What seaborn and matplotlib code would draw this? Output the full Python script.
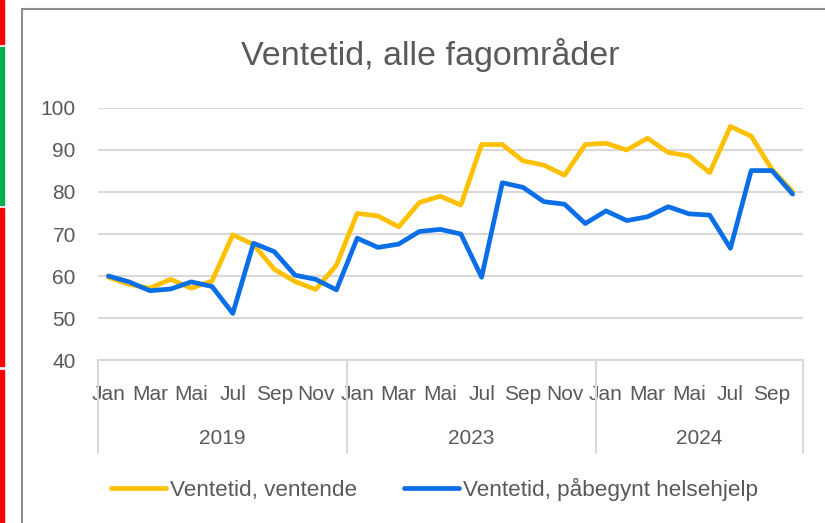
import matplotlib
matplotlib.use("Agg")
import matplotlib.pyplot as plt
import matplotlib.patches as mpatches
import matplotlib.transforms as mtransforms
import numpy as np
import pandas as pd
import seaborn as sns

# --- data ---
YEARS = ["2019", "2023", "2024"]
MONTHS_PER_YEAR = [12, 12, 10]
MONTH_NAMES = ["Jan", "Feb", "Mar", "Apr", "Mai", "Jun",
               "Jul", "Aug", "Sep", "Okt", "Nov", "Des"]

ventende = [
    59.7, 58.0, 57.1, 59.2, 57.1, 58.8, 69.8, 67.5, 61.6, 58.7, 56.8, 62.6,
    74.9, 74.3, 71.7, 77.5, 79.0, 76.9, 91.3, 91.3, 87.4, 86.4, 84.0, 91.3,
    91.6, 90.0, 92.8, 89.4, 88.6, 84.6, 95.6, 93.3, 85.4, 80.1,
]
paabegynt = [
    60.0, 58.6, 56.5, 56.9, 58.6, 57.5, 51.1, 67.8, 65.8, 60.2, 59.2, 56.7,
    69.0, 66.8, 67.6, 70.6, 71.1, 70.0, 59.7, 82.2, 81.1, 77.7, 77.1, 72.5,
    75.5, 73.2, 74.1, 76.5, 74.8, 74.5, 66.6, 85.1, 85.1, 79.5,
]
SERIES = ["Ventetid, ventende", "Ventetid, påbegynt helsehjelp"]
COLORS = ["#FFC000", "#0A6FE6"]
TEXT = "#595959"
GRID = "#D9D9D9"

sns.set_theme(style="white")
plt.rcParams["font.family"] = ["Liberation Sans", "DejaVu Sans"]

labels = [m for n in MONTHS_PER_YEAR for m in MONTH_NAMES[:n]]
idx = np.arange(len(labels))
df = pd.DataFrame({
    "i": np.concatenate([idx, idx]),
    "value": ventende + paabegynt,
    "serie": [SERIES[0]] * len(idx) + [SERIES[1]] * len(idx),
})

W, H = 825, 523
fig = plt.figure(figsize=(W / 100, H / 100), dpi=100)
fig.patch.set_facecolor("white")

# left edge strips and chart border (screenshot frame)
for y0, y1, c in [(0, 44, "#FF0000"), (47, 205, "#00B050"),
                  (208, 366, "#FF0000"), (370, 523, "#FF0000")]:
    fig.patches.append(mpatches.Rectangle((0, 1 - y1 / H), 4 / W, (y1 - y0) / H,
                                          transform=fig.transFigure, color=c, zorder=0))
fig.patches.append(mpatches.Rectangle((22 / W, -0.1), 1.2, 1.1 - 9 / H, transform=fig.transFigure,
                                      fill=False, edgecolor="#8C8C8C", linewidth=1.5, zorder=0))

ax = fig.add_axes([98 / W, 1 - 360 / H, (803 - 98) / W, 252 / H])
sns.lineplot(data=df, x="i", y="value", hue="serie", palette=COLORS,
             linewidth=3.4, sort=False, ax=ax, legend=True,
             solid_capstyle="round", solid_joinstyle="round")

ax.set_xlim(-0.5, len(idx) - 0.5)
ax.set_ylim(40, 100)
ax.set_yticks(np.arange(40, 101, 10))
ax.yaxis.grid(True, color=GRID, linewidth=1.5)
ax.set_axisbelow(True)
for side in ["top", "right", "left"]:
    ax.spines[side].set_visible(False)
ax.spines["bottom"].set_color(GRID)
ax.spines["bottom"].set_linewidth(1.5)
ax.set_xlabel("")
ax.set_ylabel("")

# every other month is labelled
shown = [k for k in idx if k % 2 == 0]
ax.set_xticks(shown)
ax.set_xticklabels([labels[k] for k in shown])
ax.tick_params(axis="x", length=0, pad=18, labelsize=15, labelcolor=TEXT)
ax.tick_params(axis="y", length=0, pad=16, labelsize=15, labelcolor=TEXT)

# multi-level category axis: separators and year labels
tr = mtransforms.blended_transform_factory(ax.transData, ax.transAxes)
edges = np.concatenate([[0], np.cumsum(MONTHS_PER_YEAR)]) - 0.5
for e in edges:
    ax.plot([e, e], [0, -93 / 252], transform=tr, color=GRID, linewidth=1.5, clip_on=False)
for year, a, b in zip(YEARS, edges[:-1], edges[1:]):
    ax.text((a + b) / 2, -79 / 252, year, transform=tr, ha="center", va="center",
            fontsize=15, color=TEXT)

fig.text(0.521, 1 - 55 / H, "Ventetid, alle fagområder", ha="center", va="center",
         fontsize=24.5, color=TEXT)

handles, lbls = ax.get_legend_handles_labels()
ax.legend_.remove()
for h in handles:
    h.set_linewidth(3.4)
fig.legend(handles, lbls, loc="center", bbox_to_anchor=(0.527, 1 - 489 / H), ncol=2,
           frameon=False, fontsize=16.2, labelcolor=TEXT, handlelength=2.44,
           handletextpad=0.18, columnspacing=2.1)

fig.savefig("out.png", dpi=100, facecolor="white")
